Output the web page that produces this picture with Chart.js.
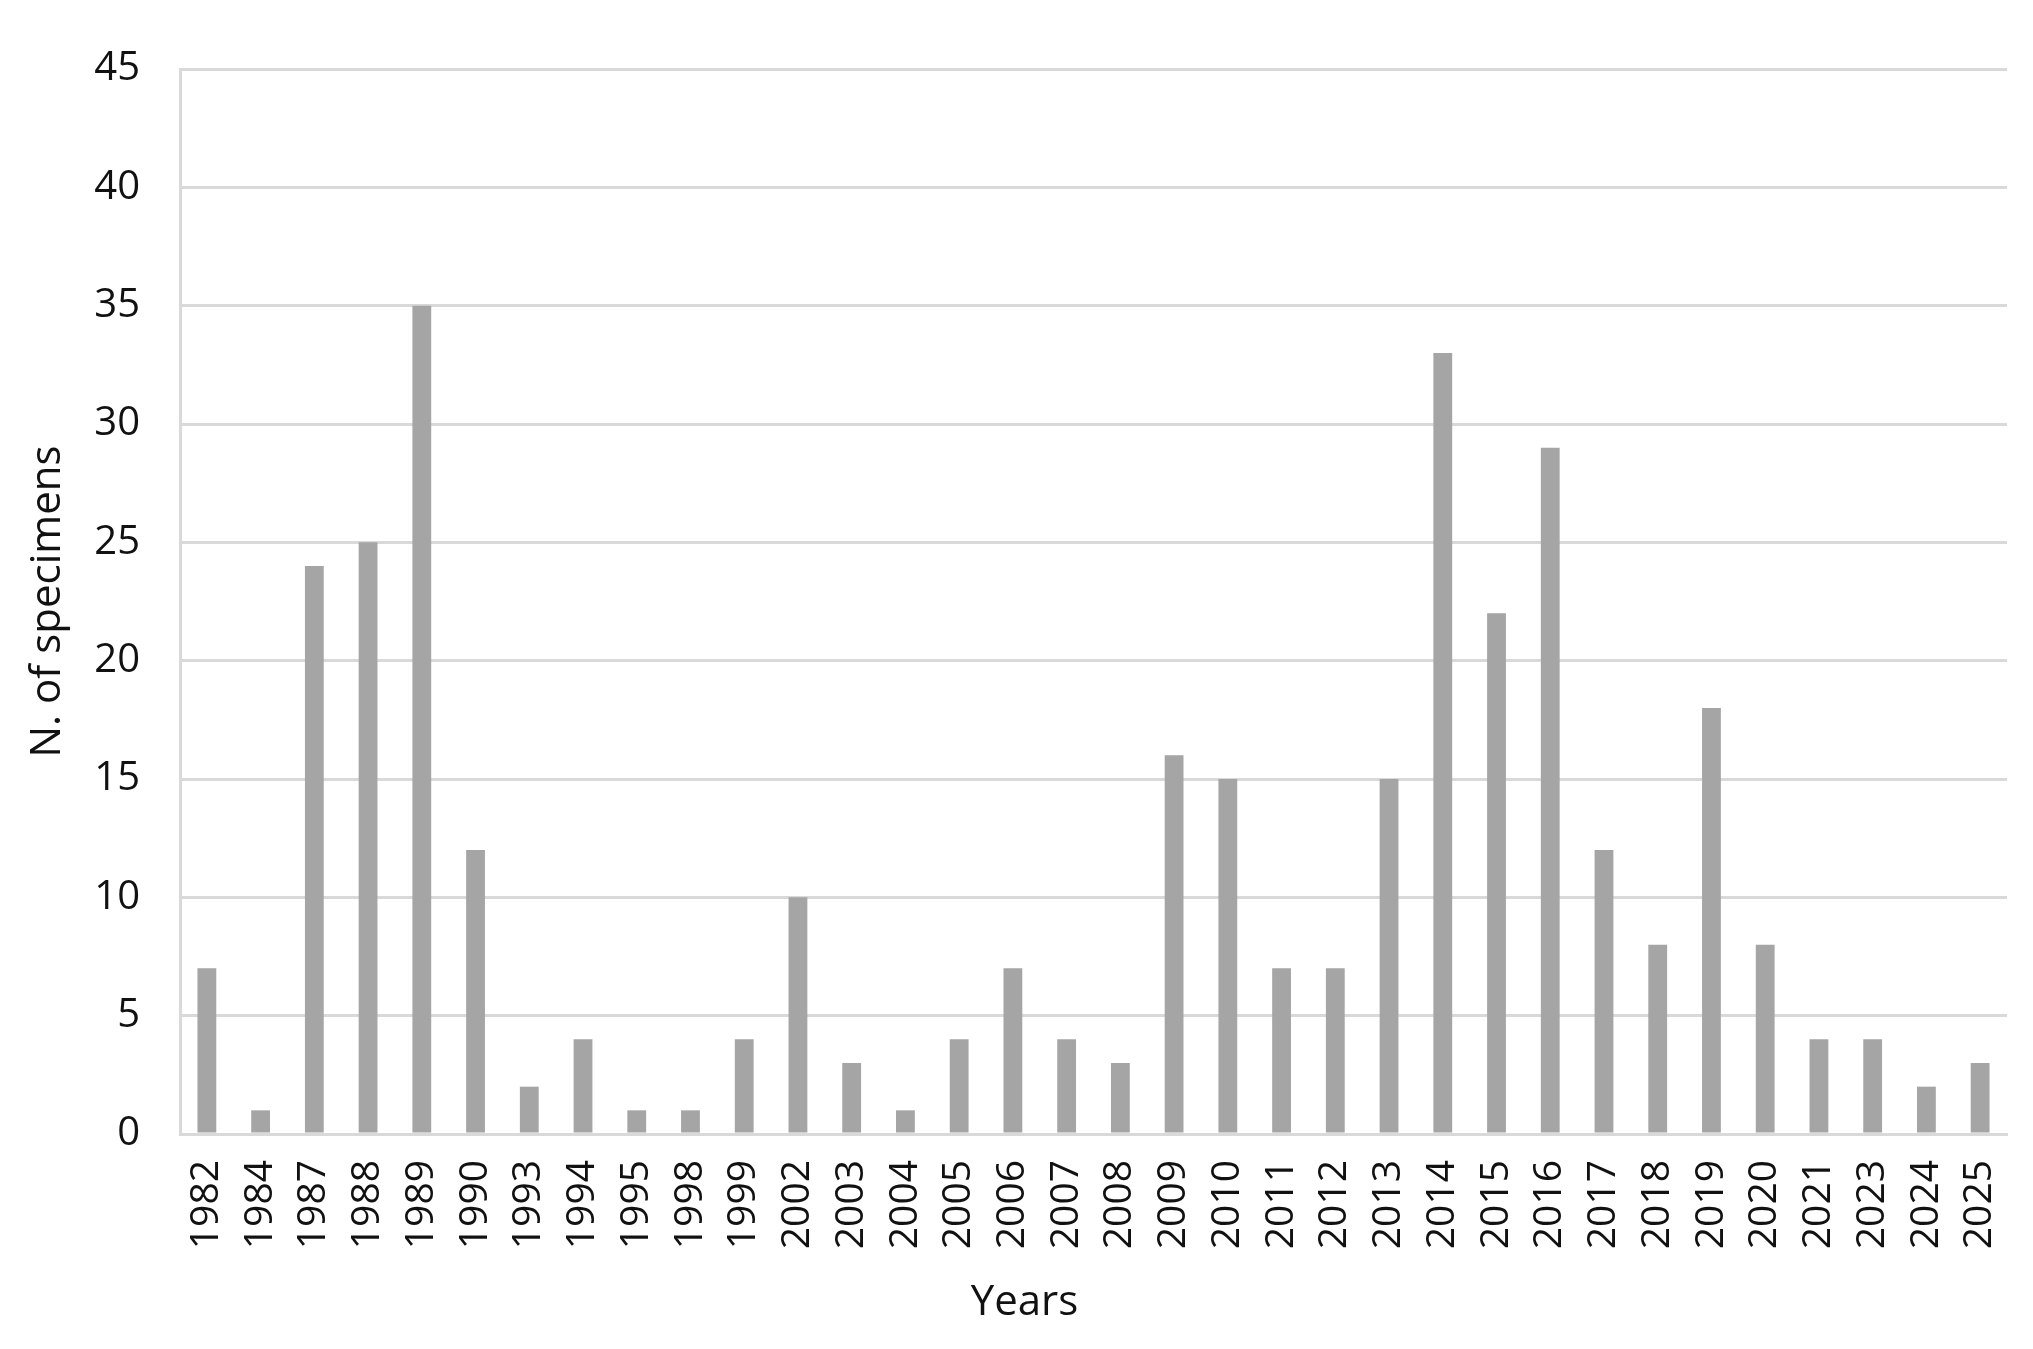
<!DOCTYPE html>
<html>
<head>
<meta charset="utf-8">
<script src="https://cdn.jsdelivr.net/npm/chart.js@4.4.1/dist/chart.umd.min.js"></script>
<style>
  html, body { margin: 0; padding: 0; background: #fff; overflow: hidden; }
  #wrap { width: 2033px; height: 1349px; position: relative; }
  canvas { display: block; }
</style>
</head>
<body>
<div id="wrap"><canvas id="specimensChart"></canvas></div>
<script>
const years = ['1982', '1984', '1987', '1988', '1989', '1990', '1993', '1994', '1995', '1998',
  '1999', '2002', '2003', '2004', '2005', '2006', '2007', '2008', '2009', '2010',
  '2011', '2012', '2013', '2014', '2015', '2016', '2017', '2018', '2019', '2020',
  '2021', '2023', '2024', '2025'];
const specimens = [7, 1, 24, 25, 35, 12, 2, 4, 1, 1,
  4, 10, 3, 1, 4, 7, 4, 3, 16, 15,
  7, 7, 15, 33, 22, 29, 12, 8, 18, 8,
  4, 4, 2, 3];
const yTicks = [0, 5, 10, 15, 20, 25, 30, 35, 40, 45];

const textColor = '#111111';
const gridColor = '#d9d9d9';
const fontFamily = '"Open Sans", "Noto Sans", sans-serif';

// x axis title sits centred on the whole figure, not on the plot area
const xTitlePlugin = {
    id: 'xTitle',
    afterDraw(chart) {
        const c = chart.ctx;
        c.save();
        c.fillStyle = textColor;
        c.font = '42px ' + fontFamily;
        c.textAlign = 'center';
        c.textBaseline = 'middle';
        c.fillText('Years', chart.width / 2 + 8, chart.height - 46);
        c.restore();
    }
};

const ctx = document.getElementById('specimensChart').getContext('2d');

const specimensChart = new Chart(ctx, {
    type: 'bar',
    data: {
        labels: years,
        datasets: [{
            label: 'N. of specimens',
            data: specimens,
            backgroundColor: '#a5a5a5',
            borderWidth: 0,
            barPercentage: 0.35,
            categoryPercentage: 1
        }]
    },
    options: {
        responsive: true,
        maintainAspectRatio: false,
        animation: false,
        layout: {
            padding: { top: 69, right: 26, bottom: 0, left: 0 }
        },
        plugins: {
            legend: { display: false },
            tooltip: { enabled: false }
        },
        scales: {
            y: {
                min: 0,
                max: 45,
                afterBuildTicks: (scale) => {
                    scale.ticks = yTicks.map(v => ({ value: v }));
                },
                afterFit: (scale) => { scale.width = 180; },
                title: {
                    display: true,
                    text: 'N. of specimens',
                    color: textColor,
                    font: { family: fontFamily, size: 42 },
                    padding: { top: 23, bottom: 0 }
                },
                ticks: {
                    color: textColor,
                    padding: 40,
                    font: { family: fontFamily, size: 40 }
                },
                grid: {
                    color: gridColor,
                    lineWidth: 3,
                    drawTicks: false
                },
                border: {
                    display: true,
                    color: gridColor,
                    width: 3
                }
            },
            x: {
                afterFit: (scale) => {
                    scale.height = 215;
                    scale.paddingLeft = 0;
                    scale.paddingRight = 0;
                },
                ticks: {
                    color: textColor,
                    minRotation: 90,
                    maxRotation: 90,
                    autoSkip: false,
                    padding: 26,
                    font: { family: fontFamily, size: 39 }
                },
                grid: {
                    display: false,
                    drawTicks: false
                },
                border: {
                    display: true,
                    color: gridColor,
                    width: 3
                }
            }
        }
    },
    plugins: [xTitlePlugin]
});
</script>
</body>
</html>
